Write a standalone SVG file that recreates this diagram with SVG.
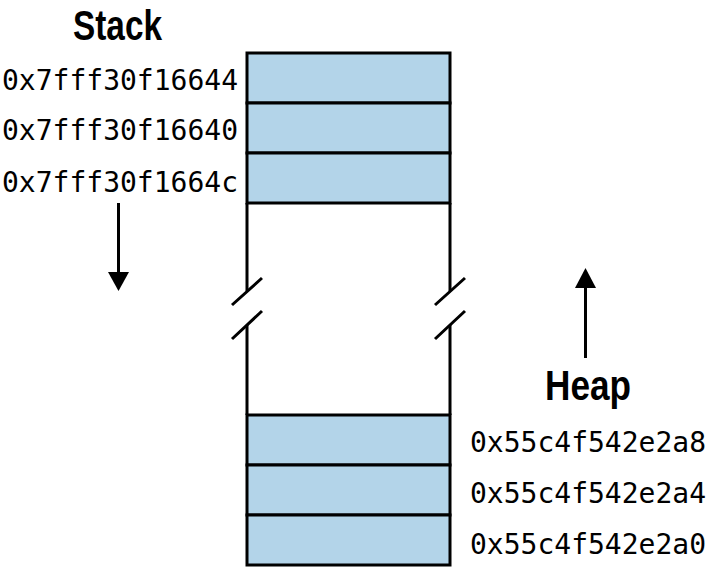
<svg xmlns="http://www.w3.org/2000/svg" width="706" height="568" viewBox="0 0 706 568">
<style>
.cell{fill:#b3d4e9;stroke:#000;stroke-width:3}
.ln{fill:none;stroke:#000;stroke-width:3}
.addr{font-family:"DejaVu Sans Mono",monospace;font-size:28px;fill:#000}
.title{font-family:"Liberation Sans",sans-serif;font-size:42px;font-weight:bold;fill:#000}
</style>
<g id="stack-title"><text class="title" x="73" y="40" textLength="89" lengthAdjust="spacingAndGlyphs">Stack</text></g>
<g id="heap-title"><text class="title" x="545" y="400" textLength="86" lengthAdjust="spacingAndGlyphs">Heap</text></g>
<g id="stack-cell-1"><rect class="cell" x="247" y="53" width="203" height="50"/><text class="addr" x="2" y="90">0x7fff30f16644</text></g>
<g id="stack-cell-2"><rect class="cell" x="247" y="103" width="203" height="50"/><text class="addr" x="2" y="140">0x7fff30f16640</text></g>
<g id="stack-cell-3"><rect class="cell" x="247" y="153" width="203" height="50"/><text class="addr" x="2" y="192">0x7fff30f1664c</text></g>
<g id="heap-cell-1"><rect class="cell" x="247" y="415" width="203" height="50"/><text class="addr" x="470" y="452">0x55c4f542e2a8</text></g>
<g id="heap-cell-2"><rect class="cell" x="247" y="465" width="203" height="50"/><text class="addr" x="470" y="503">0x55c4f542e2a4</text></g>
<g id="heap-cell-3"><rect class="cell" x="247" y="515" width="203" height="50"/><text class="addr" x="470" y="554">0x55c4f542e2a0</text></g>
<g id="connectors">
<path class="ln" d="M247 203V291M450 203V291M247 325V415M450 325V415"/>
<path class="ln" d="M232 305L262 278M232 339L262 311M435 305L465 278M435 339L465 311"/>
<path class="ln" d="M118.5 203V275"/>
<polygon points="108,272 129,272 118.5,291" fill="#000"/>
<path class="ln" d="M585.5 358V285"/>
<polygon points="575,288 596,288 585.5,268" fill="#000"/>
</g>
</svg>
